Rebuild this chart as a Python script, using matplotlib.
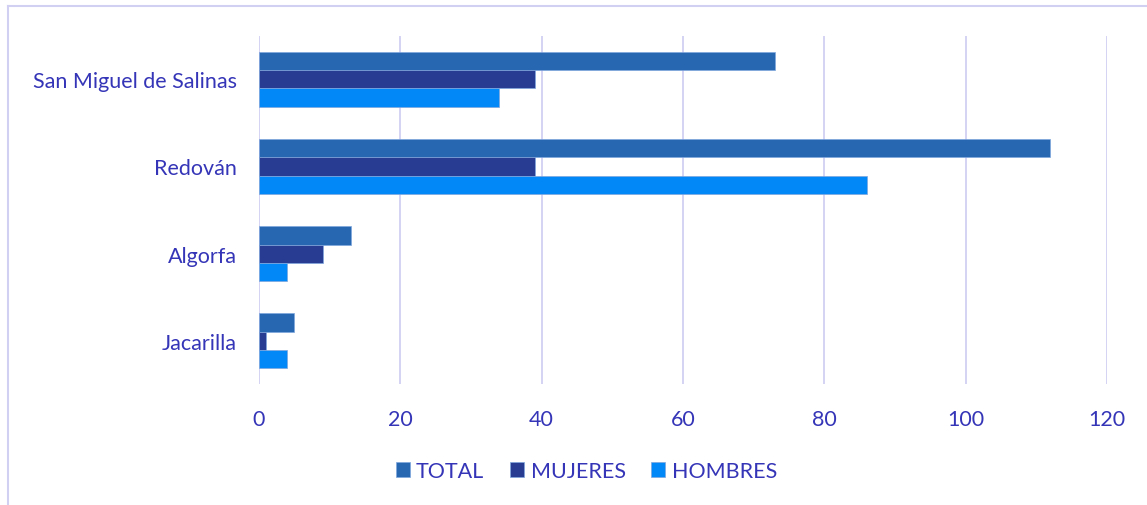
import numpy as np
import matplotlib.pyplot as plt
from matplotlib.lines import Line2D

# Data
municipios = ["San Miguel de Salinas", "Redován", "Algorfa", "Jacarilla"]
total = [73, 112, 13, 5]
mujeres = [39, 39, 9, 1]
hombres = [34, 86, 4, 4]

series_names = ["TOTAL", "MUJERES", "HOMBRES"]
colors = ["#2766B0", "#283C91", "#0288F7"]
text_color = "#3535B8"
grid_color = "#D2D0F2"

plt.rcParams['font.family'] = ['Lato', 'DejaVu Sans']

fig = plt.figure(figsize=(11.47, 5.06), dpi=100)
ax = fig.add_axes([0.2258, 0.2391, 0.9651 - 0.2258, 0.9269 - 0.2391])

y = np.arange(len(municipios))
h = 0.207
for i, (vals, name, col) in enumerate(zip([total, mujeres, hombres], series_names, colors)):
    ax.barh(y + (i - 1) * h, vals, height=h, color=col, label=name,
            edgecolor="#7FA6DD", linewidth=0.5, zorder=3)

ax.set_ylim(3.5, -0.5)
ax.set_xlim(0, 120)
ax.set_xticks(range(0, 121, 20))
ax.set_yticks(y)
ax.set_yticklabels(municipios)

ax.grid(axis='x', color=grid_color, linewidth=1.3, zorder=0)
for s in ax.spines.values():
    s.set_visible(False)
ax.tick_params(axis='both', length=0, labelsize=15.5, colors=text_color)
ax.tick_params(axis='x', pad=18)
ax.tick_params(axis='y', pad=16)

leg = ax.legend(loc='center', bbox_to_anchor=(0.386, -0.25), ncol=3, frameon=False,
                fontsize=15.5, handlelength=0.65, handleheight=0.65, handletextpad=0.3,
                columnspacing=1.2)
for t in leg.get_texts():
    t.set_color(text_color)

# outer chart frame (left and top edges visible)
fig.add_artist(Line2D([8 / 1147, 8 / 1147], [0, 1 - 7 / 506], color=grid_color, linewidth=1.5))
fig.add_artist(Line2D([8 / 1147, 1], [1 - 7 / 506, 1 - 7 / 506], color=grid_color, linewidth=1.5))

fig.savefig("out.png", dpi=100)
